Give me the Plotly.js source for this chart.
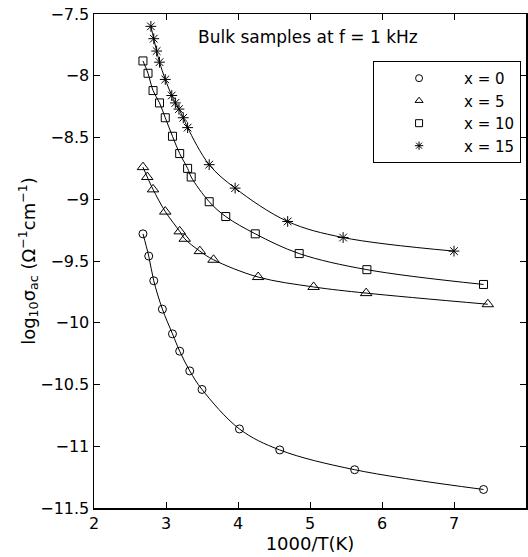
<!DOCTYPE html>
<html><head><meta charset="utf-8">
<script src="https://cdn.plot.ly/plotly-3.0.1.min.js"></script>
<style>html,body{margin:0;padding:0;background:#fff}#chart{width:528px;height:557px}</style>
</head><body><div id="chart"></div>
<script>
const seriesNames = ["x = 0", "x = 5", "x = 10", "x = 15"];
const x0 = [2.68, 2.76, 2.83, 2.95, 3.09, 3.19, 3.33, 3.50, 4.02, 4.58, 5.62, 7.41];
const y0 = [-9.28, -9.46, -9.66, -9.89, -10.09, -10.23, -10.39, -10.54, -10.86, -11.03, -11.19, -11.35];
const x5 = [2.68, 2.74, 2.82, 2.99, 3.19, 3.26, 3.47, 3.66, 4.28, 5.05, 5.78, 7.47];
const y5 = [-8.74, -8.82, -8.92, -9.10, -9.26, -9.32, -9.42, -9.49, -9.63, -9.71, -9.76, -9.85];
const x10 = [2.68, 2.75, 2.82, 2.91, 2.99, 3.09, 3.19, 3.30, 3.35, 3.60, 3.83, 4.24, 4.85, 5.79, 7.41];
const y10 = [-7.88, -7.98, -8.12, -8.22, -8.34, -8.49, -8.63, -8.75, -8.82, -9.02, -9.14, -9.28, -9.44, -9.57, -9.69];
const x15 = [2.79, 2.83, 2.87, 2.91, 2.99, 3.08, 3.13, 3.18, 3.24, 3.30, 3.60, 3.96, 4.69, 5.46, 7.00];
const y15 = [-7.60, -7.70, -7.80, -7.89, -8.03, -8.16, -8.22, -8.27, -8.34, -8.42, -8.72, -8.91, -9.18, -9.31, -9.42];
const xTicks = [2, 3, 4, 5, 6, 7, 8];
const yTicks = [-11.5, -11, -10.5, -10, -9.5, -9, -8.5, -8, -7.5];
const annotationText = "Bulk samples at f = 1 kHz";

const symbols = ["circle-open", "triangle-up-open", "square-open", "asterisk-open"];
const xs = [x0, x5, x10, x15];
const ys = [y0, y5, y10, y15];
const sizes = [8, 10, 8, 9];

const traces = [];
for (let i = 0; i < 4; i++) {
  traces.push({
    x: xs[i], y: ys[i], name: seriesNames[i], type: "scatter", mode: "lines+markers",
    line: {color: "black", width: 1, shape: "spline", smoothing: 1},
    marker: {symbol: symbols[i], size: sizes[i], color: "black", line: {color: "black", width: 1}},
    showlegend: false
  });
}
for (let i = 0; i < 4; i++) {
  traces.push({
    x: [null], y: [null], name: seriesNames[i], type: "scatter", mode: "markers",
    marker: {symbol: symbols[i], size: 7, color: "black", line: {color: "black", width: 1}},
    showlegend: true
  });
}

const fam = "DejaVu Sans, sans-serif";
const font = {family: fam, size: 16, color: "black"};
const legendFont = {family: fam, size: 15, color: "black"};
const titleFont = {family: fam, size: 18, color: "black"};
const axisCommon = {
  showline: true, linecolor: "black", linewidth: 1.5, mirror: "ticks",
  ticks: "inside", ticklen: 6, tickwidth: 1, tickcolor: "black",
  showgrid: false, zeroline: false, tickfont: font
};
const layout = {
  width: 528, height: 557,
  margin: {l: 94, r: 2, t: 14, b: 49},
  paper_bgcolor: "white", plot_bgcolor: "white",
  font: font,
  xaxis: Object.assign({}, axisCommon, {
    range: [2, 8], tickvals: xTicks, ticktext: xTicks.map(String),
    title: {text: "1000/T(K)", font: titleFont, standoff: 0}
  }),
  yaxis: Object.assign({}, axisCommon, {
    range: [-11.5, -7.5], tickvals: yTicks, ticktext: yTicks.map(v => String(v).replace("-", "\u2212")),
    title: {text: "log<sub>10</sub>σ<sub>ac</sub> (Ω<sup>\u22121</sup>cm<sup>\u22121</sup>)", font: titleFont, standoff: 0}
  }),
  legend: {
    x: 0.646, y: 0.905, xanchor: "left", yanchor: "top",
    bordercolor: "black", borderwidth: 1, bgcolor: "white",
    font: legendFont, itemwidth: 80, tracegroupgap: 0
  },
  annotations: [{
    x: 4.97, y: -7.69, xref: "x", yref: "y", text: annotationText,
    showarrow: false, font: {family: fam, size: 17, color: "black"}
  }]
};
Plotly.newPlot("chart", traces, layout, {displayModeBar: false, staticPlot: true});
</script></body></html>
